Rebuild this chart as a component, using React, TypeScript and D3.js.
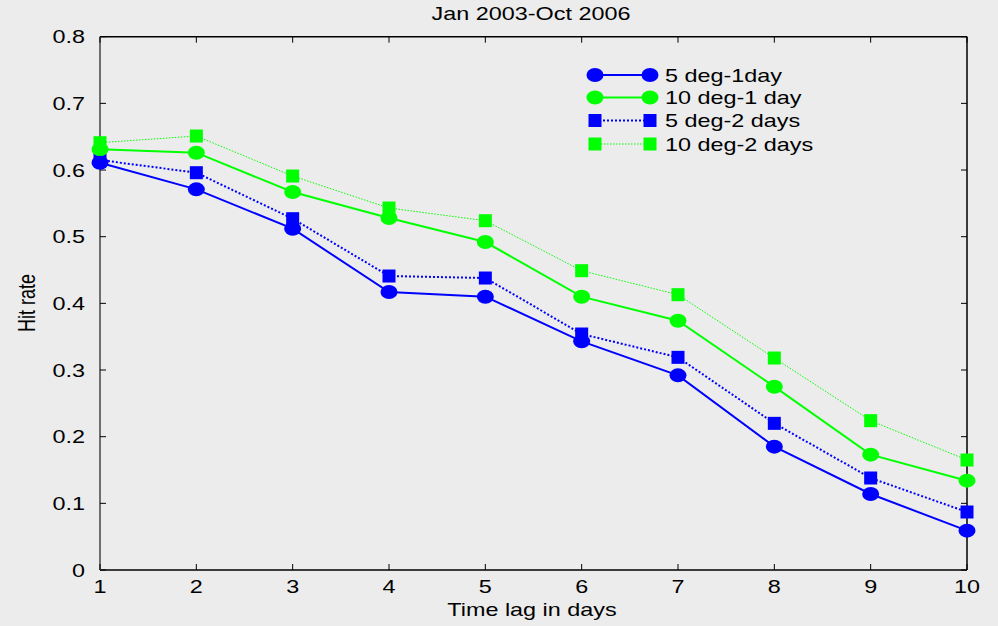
import React, { useEffect, useRef } from "react";
import * as d3 from "d3";

const lags = [1, 2, 3, 4, 5, 6, 7, 8, 9, 10];
const deg5Day1 = [0.611, 0.571, 0.512, 0.417, 0.41, 0.343, 0.292, 0.185, 0.114, 0.059];
const deg10Day1 = [0.631, 0.626, 0.567, 0.528, 0.492, 0.41, 0.374, 0.275, 0.173, 0.134];
const deg5Day2 = [0.615, 0.596, 0.527, 0.441, 0.438, 0.354, 0.319, 0.22, 0.138, 0.087];
const deg10Day2 = [0.641, 0.651, 0.591, 0.543, 0.524, 0.449, 0.413, 0.318, 0.224, 0.165];
const yTicks = [0, 0.1, 0.2, 0.3, 0.4, 0.5, 0.6, 0.7, 0.8];
const seriesNames = ["5 deg-1day", "10 deg-1 day", "5 deg-2 days", "10 deg-2 days"];

const W = 998;
const H = 626;
const FONT = "'Liberation Sans', Arial, sans-serif";
const SX = 1.3; // horizontal stretch of the text glyphs

type Series = {
  name: string;
  values: number[];
  color: string;
  marker: "circle" | "square";
  width: number;
  dash: string | null;
};

const series: Series[] = [
  { name: seriesNames[0], values: deg5Day1, color: "#0000ff", marker: "circle", width: 2, dash: null },
  { name: seriesNames[1], values: deg10Day1, color: "#00ff00", marker: "circle", width: 2, dash: null },
  { name: seriesNames[2], values: deg5Day2, color: "#0000ff", marker: "square", width: 2, dash: "2,2" },
  { name: seriesNames[3], values: deg10Day2, color: "#00ff00", marker: "square", width: 1, dash: "1.5,1.5" },
];

export default function App() {
  const ref = useRef<SVGSVGElement | null>(null);

  useEffect(() => {
    const svg = d3.select(ref.current);
    svg.selectAll("*").remove();

    const left = 100, right = 967, top = 36.7, bottom = 570;
    const x = d3.scaleLinear().domain([1, 10]).range([left, right]);
    const y = d3.scaleLinear().domain([0, 0.8]).range([bottom, top]);

    const label = (
      tx: number,
      ty: number,
      text: string,
      size: number,
      anchor: string,
      rotate = 0
    ) =>
      svg
        .append("text")
        .attr("transform", `translate(${tx},${ty}) scale(${SX},1)${rotate ? ` rotate(${rotate})` : ""}`)
        .attr("text-anchor", anchor)
        .attr("font-family", FONT)
        .attr("font-size", size)
        .attr("fill", "#000")
        .text(text);

    svg.append("rect").attr("width", W).attr("height", H).attr("fill", "#ececec");

    // frame
    svg.append("line").attr("x1", left).attr("x2", right).attr("y1", top).attr("y2", top)
      .attr("stroke", "#000").attr("stroke-width", 1.5);
    svg.append("line").attr("x1", left).attr("x2", right).attr("y1", bottom).attr("y2", bottom)
      .attr("stroke", "#000").attr("stroke-width", 1.5);
    svg.append("line").attr("x1", right).attr("x2", right).attr("y1", top).attr("y2", bottom)
      .attr("stroke", "#000").attr("stroke-width", 1.5);
    svg.append("line").attr("x1", left).attr("x2", left).attr("y1", top).attr("y2", bottom)
      .attr("stroke", "#6e6e6e").attr("stroke-width", 2);

    const tl = 6;
    // x ticks (bottom and top, inward)
    lags.forEach((v) => {
      const px = x(v);
      svg.append("line").attr("x1", px).attr("x2", px).attr("y1", bottom).attr("y2", bottom - tl)
        .attr("stroke", "#000").attr("stroke-width", 1);
      svg.append("line").attr("x1", px).attr("x2", px).attr("y1", top).attr("y2", top + tl)
        .attr("stroke", "#000").attr("stroke-width", 1);
      label(px, 593, String(v), 18, "middle");
    });
    // y ticks (left and right, inward)
    yTicks.forEach((v) => {
      const py = y(v);
      svg.append("line").attr("x1", left).attr("x2", left + tl).attr("y1", py).attr("y2", py)
        .attr("stroke", "#000").attr("stroke-width", 1);
      svg.append("line").attr("x1", right).attr("x2", right - tl).attr("y1", py).attr("y2", py)
        .attr("stroke", "#000").attr("stroke-width", 1);
      label(85, py + 6.5, v === 0 ? "0" : d3.format(".1f")(v), 18, "end");
    });

    const line = d3.line<number>().x((_, i) => x(lags[i])).y((d) => y(d));

    const drawMarker = (g: any, s: Series, cx: number, cy: number) => {
      if (s.marker === "circle") {
        g.append("ellipse").attr("cx", cx).attr("cy", cy).attr("rx", 8.5).attr("ry", 7)
          .attr("fill", s.color);
      } else {
        g.append("rect").attr("x", cx - 6.5).attr("y", cy - 6.5).attr("width", 13).attr("height", 13)
          .attr("fill", s.color);
      }
    };

    // draw order: first-listed series ends on top
    const order = [3, 2, 1, 0];
    order.forEach((k) => {
      const s = series[k];
      const g = svg.append("g");
      g.append("path").attr("d", line(s.values)).attr("fill", "none")
        .attr("stroke", s.color).attr("stroke-width", s.width)
        .attr("stroke-dasharray", s.dash ?? null);
      s.values.forEach((v, i) => drawMarker(g, s, x(lags[i]), y(v)));
    });

    // legend
    const legendRows = [75, 97.5, 120.5, 144];
    series.forEach((s, i) => {
      const g = svg.append("g");
      const ly = legendRows[i];
      g.append("line").attr("x1", 595).attr("x2", 650).attr("y1", ly).attr("y2", ly)
        .attr("stroke", s.color).attr("stroke-width", s.width)
        .attr("stroke-dasharray", s.dash ?? null);
      drawMarker(g, s, 595, ly);
      drawMarker(g, s, 650, ly);
      label(665, ly + 6.5, s.name, 18, "start");
    });

    label(531, 20, "Jan 2003-Oct 2006", 18, "middle");
    label(532, 616, "Time lag in days", 18, "middle");
    label(35, 303, "Hit rate", 18, "middle", -90);
  }, []);

  return (
    <svg
      ref={ref}
      width={W}
      height={H}
      style={{ position: "absolute", left: 0, top: 0, display: "block" }}
    />
  );
}
